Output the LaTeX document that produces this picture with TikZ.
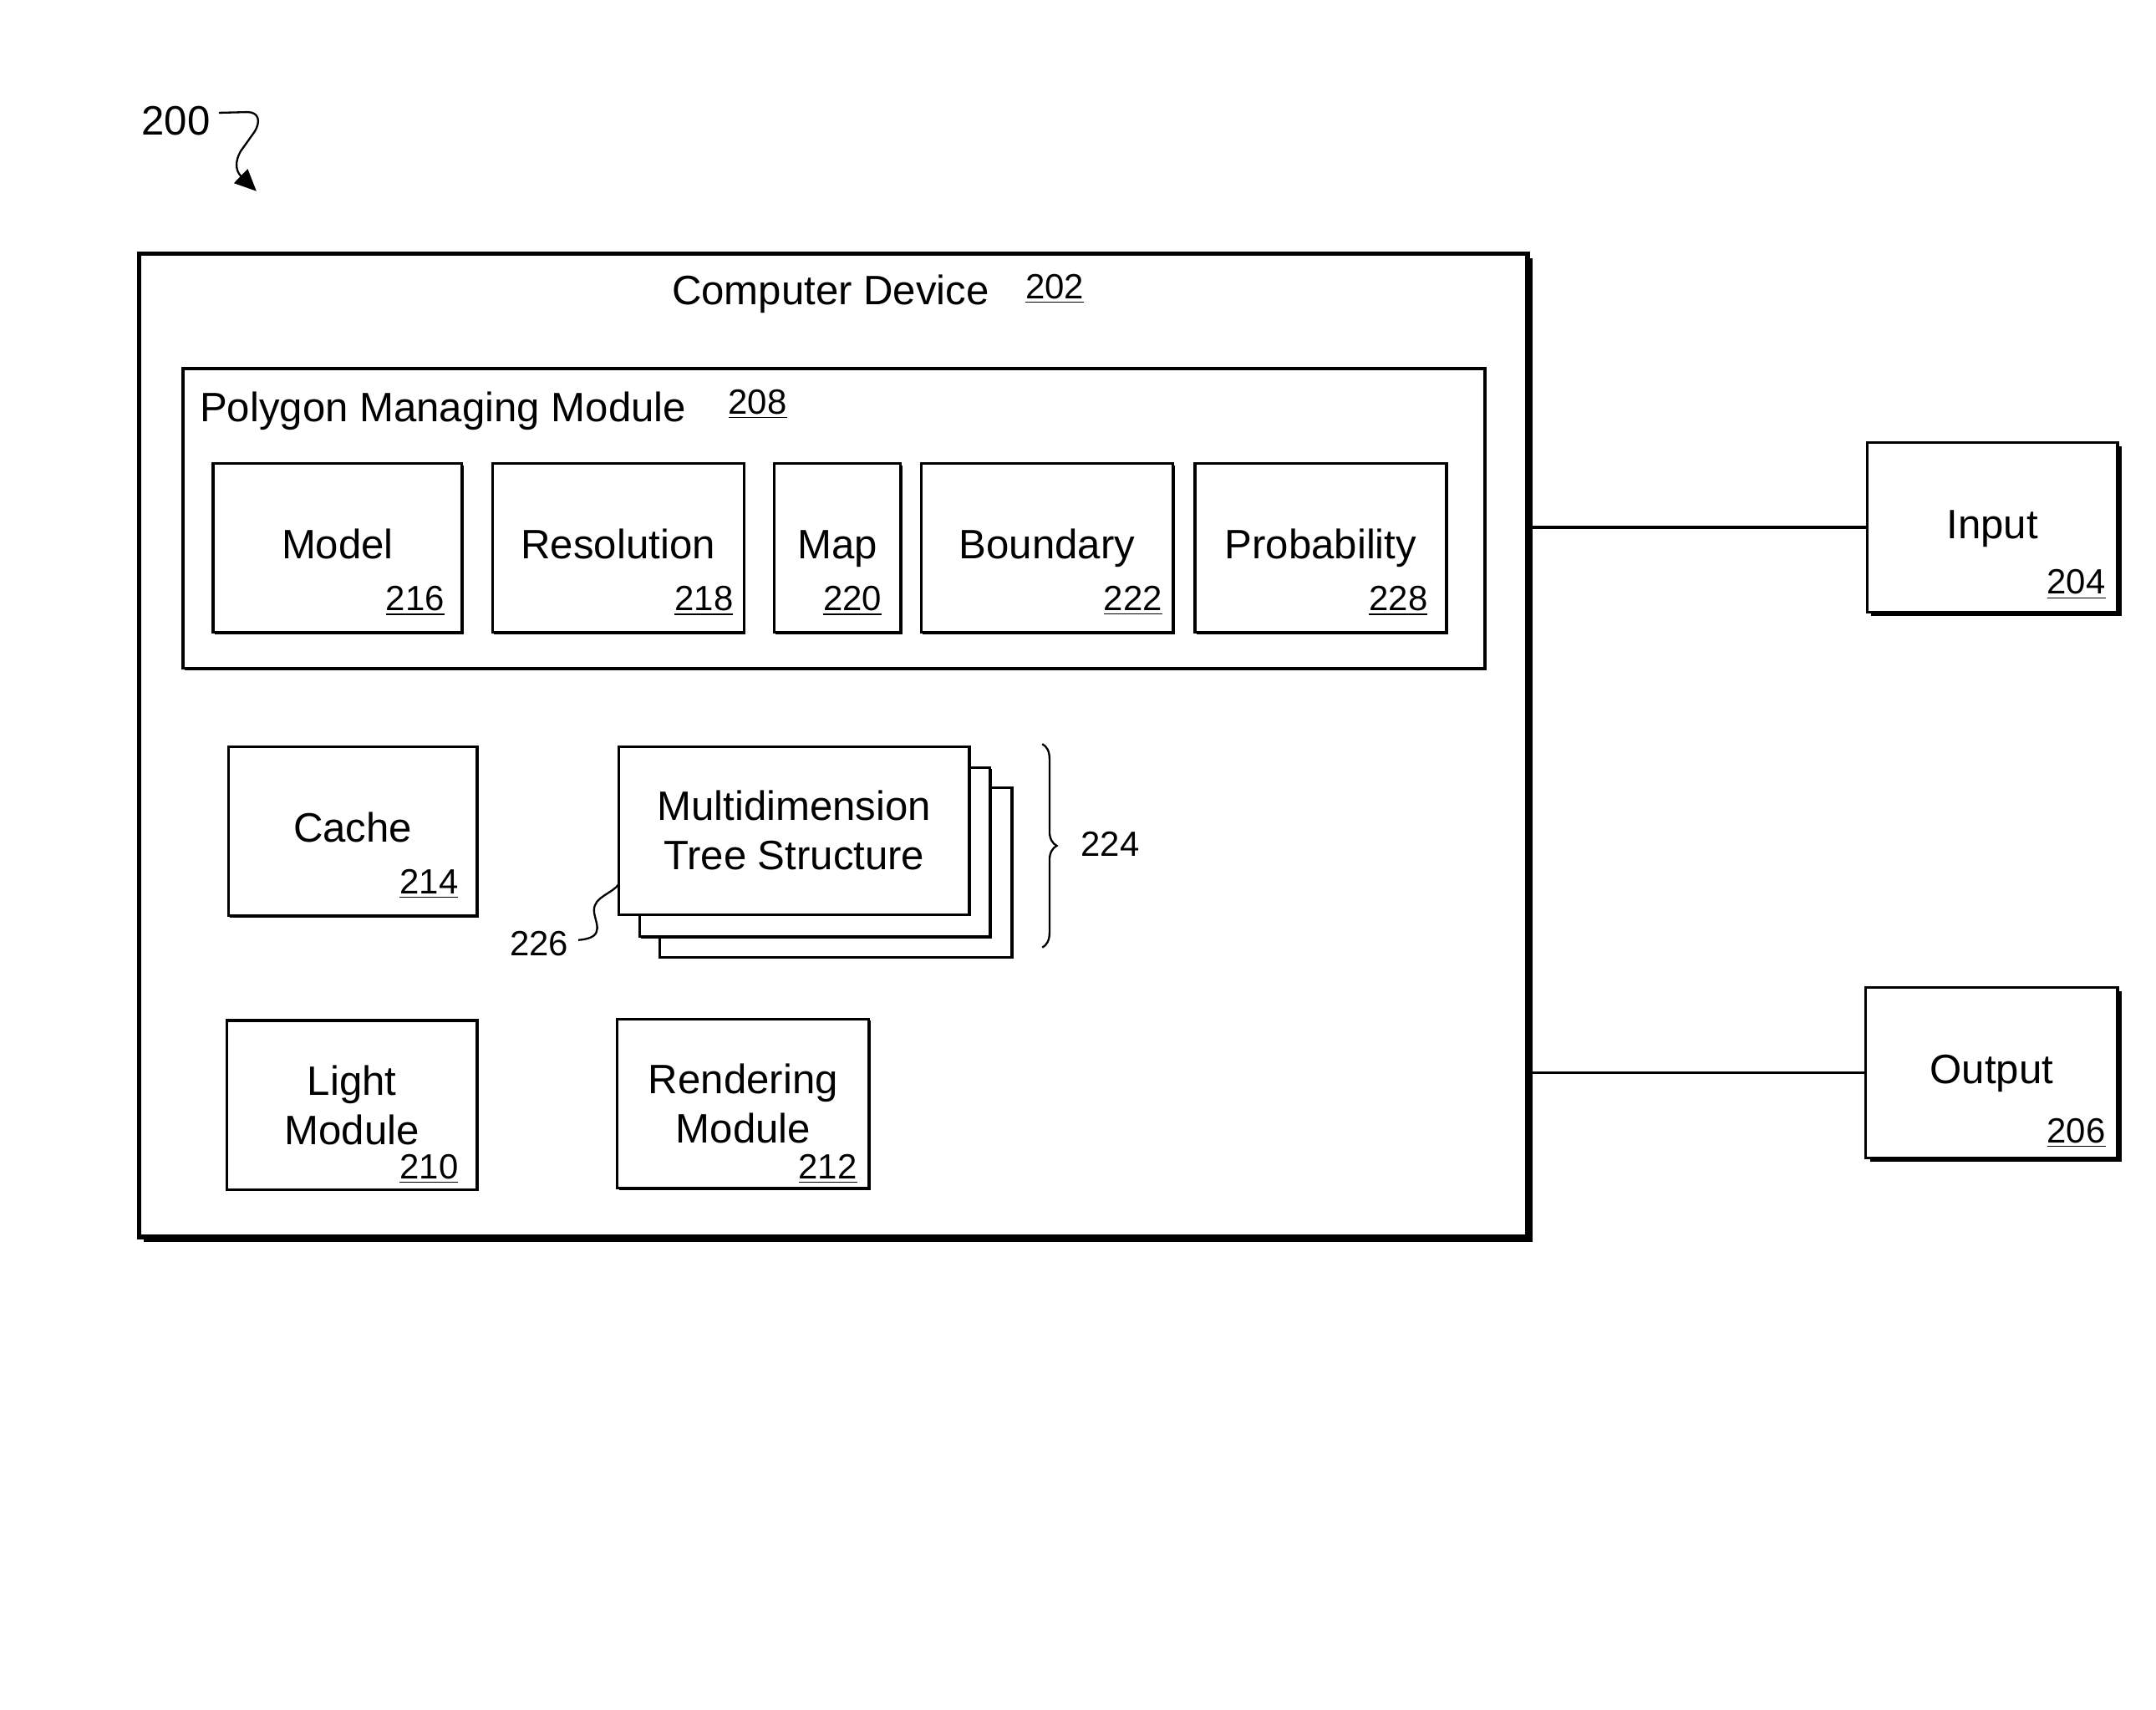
\documentclass[tikz,border=0pt]{standalone}
\usepackage{fontspec}
\setmainfont{Liberation Sans}
\usetikzlibrary{shadows, decorations.pathreplacing, arrows.meta}

\tikzset{
  box/.style={draw, fill=white, line width=1.1pt, align=center, inner sep=0pt,
    drop shadow={shadow xshift=0.7pt, shadow yshift=-0.7pt, fill=black, opacity=1}},
  onebox/.style={box, text height=0.9em, text depth=0pt},
  num/.style={font=\fontsize{14.5}{17}\selectfont, inner sep=1pt},
}

\begin{document}
\begin{tikzpicture}[x=0.02cm, y=-0.02cm, font=\fontsize{17}{20.4}\selectfont]
  \useasboundingbox (0,0) rectangle (1568,1243);
  %figure label
  \node at (128,88) (fig){200};
  \coordinate (figtip) at (186.5,139);
  \draw[-{Triangle[length=9pt, width=8pt]}, line width=0.8pt] ([yshift=3.4pt]fig.east) -- (180,81.5) .. controls (188,81.5) and (190,88) .. (185,96) -- (175,110) .. controls (171,117) and (171,124) .. (figtip);
  %computer device
  \node[box, line width=1.8pt, minimum width=20.2cm, minimum height=14.3cm,
    drop shadow={shadow xshift=2pt, shadow yshift=-2pt, fill=black, opacity=1}] at (606,542) (dev){};
  \node at (604,214) (devtxt){Computer Device};
  \node[num] at (767,210) (n202){\underline{202}};
  %polygon managing module
  \node[box, minimum width=18.94cm, minimum height=4.36cm, drop shadow={opacity=0}] at (606.5,377) (pmm){};
  \node[anchor=west, inner sep=0pt] at (145,299) (pmmtxt){Polygon Managing Module};
  \node[num] at (551,294) (n208){\underline{208}};
  \node[onebox, minimum width=3.62cm, minimum height=2.46cm] at (245.5,398.5) (model){Model};
  \node[onebox, minimum width=3.66cm, minimum height=2.46cm] at (449.5,398.5) (res){Resolution};
  \node[onebox, minimum width=1.84cm, minimum height=2.46cm] at (609,398.5) (map){Map};
  \node[onebox, minimum width=3.66cm, minimum height=2.46cm] at (761.5,398.5) (bound){Boundary};
  \node[onebox, minimum width=3.66cm, minimum height=2.46cm] at (960.5,398.5) (prob){Probability};
  \node[num] at (302,437) (n216){\underline{216}};
  \node[num] at (512,437) (n218){\underline{218}};
  \node[num] at (620,437) (n220){\underline{220}};
  \node[num] at (824,437) (n222){\underline{222}};
  \node[num] at (1017,437) (n228){\underline{228}};
  %cache and tree
  \node[onebox, minimum width=3.62cm, minimum height=2.46cm] at (256.5,604.5) (cache){Cache};
  \node[num] at (312,643) (n214){\underline{214}};
  \node[box, minimum width=5.12cm, minimum height=2.46cm] at (608,634.5) (tree3){};
  \node[box, minimum width=5.1cm, minimum height=2.46cm] at (592.5,619.5) (tree2){};
  \node[box, minimum width=5.1cm, minimum height=2.44cm] at (577.5,604) (tree){Multidimension\\Tree Structure};
  \draw[decorate, decoration={brace, amplitude=6pt}, line width=0.8pt] (758,541) -- (758,689);
  \node[num, anchor=west] at (784,614) (n224){224};
  \node[num, inner sep=4pt] at (392,686) (n226){226};
  \coordinate (t226) at (450,643);
  \draw[line width=0.8pt] ([yshift=1.4pt]n226.east) .. controls (442,682) and (432,670) .. (432,662) .. controls (432,652) and (445,650) .. (t226);
  %light and rendering
  \node[box, minimum width=3.64cm, minimum height=2.46cm] at (256,803.5) (light){Light\\Module};
  \node[num] at (312,850) (n210){\underline{210}};
  \node[box, minimum width=3.66cm, minimum height=2.46cm] at (540.5,802.5) (rend){Rendering\\Module};
  \node[num] at (602,850) (n212){\underline{212}};
  %input output
  \node[onebox, minimum width=3.64cm, minimum height=2.46cm,
    drop shadow={shadow xshift=1.6pt, shadow yshift=-1.6pt, fill=black, opacity=1}] at (1449,383.5) (inp){Input};
  \node[num] at (1510,425) (n204){\underline{204}};
  \node[onebox, minimum width=3.66cm, minimum height=2.48cm,
    drop shadow={shadow xshift=1.6pt, shadow yshift=-1.6pt, fill=black, opacity=1}] at (1448.5,780) (out){Output};
  \node[num] at (1510,824) (n206){\underline{206}};
  \draw[line width=1.1pt] (inp.west) -- (inp.west -| dev.east);
  \draw[line width=1.1pt] (out.west) -- (out.west -| dev.east);
\end{tikzpicture}
\end{document}
